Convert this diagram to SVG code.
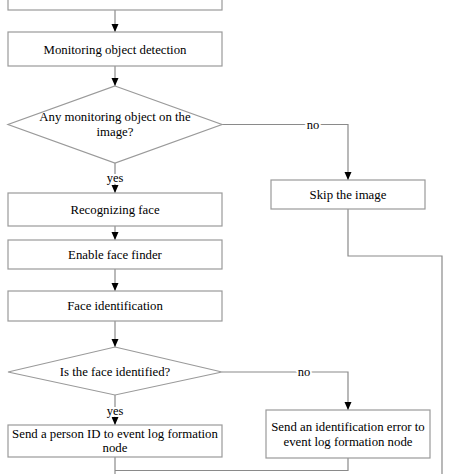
<svg xmlns="http://www.w3.org/2000/svg" width="474" height="474" viewBox="0 0 474 474">
<defs>
<marker id="arr" viewBox="0 0 8 8" refX="8" refY="4" markerWidth="8" markerHeight="8" markerUnits="userSpaceOnUse" orient="auto">
<path d="M0,0.5 L8,4 L0,7.5 Z" fill="#000"/>
</marker>
<style>
.box{fill:#fff;stroke:#9a9a9a;stroke-width:1.2}
.t{font-family:"Liberation Serif","Times New Roman",serif;font-size:12.8px;fill:#000;text-anchor:middle}
.lbl{font-family:"Liberation Serif","Times New Roman",serif;font-size:12.5px;fill:#000;text-anchor:middle;stroke:#fff;stroke-width:4;paint-order:stroke}
.c{fill:none;stroke:#8a8a8a;stroke-width:1.2}
</style>
</defs>
<rect width="474" height="474" fill="#fff"/>
<g id="connectors">
<path class="c" d="M115,10 V32" marker-end="url(#arr)"/>
<path class="c" d="M115,66 V86" marker-end="url(#arr)"/>
<path class="c" d="M115,163 V193" marker-end="url(#arr)"/>
<path class="c" d="M222,124.5 H348 V180" marker-end="url(#arr)"/>
<path class="c" d="M115,226 V240" marker-end="url(#arr)"/>
<path class="c" d="M115,269 V291" marker-end="url(#arr)"/>
<path class="c" d="M115,321 V347" marker-end="url(#arr)"/>
<path class="c" d="M115,395 V425" marker-end="url(#arr)"/>
<path class="c" d="M222,372 H348 V410" marker-end="url(#arr)"/>
<path class="c" d="M348,209 V256 H442 V474"/>
<path class="c" d="M115,457 V474"/>
<path class="c" d="M115,470.5 H348 V458"/>
<text class="lbl" x="115" y="182">yes</text>
<text class="lbl" x="313" y="128.5">no</text>
<text class="lbl" x="115" y="415">yes</text>
<text class="lbl" x="304" y="376">no</text>
</g>
<g id="n0"><rect class="box" x="8" y="-20" width="214" height="30"/></g>
<g id="n1"><rect class="box" x="8" y="32" width="214" height="34"/><text class="t" x="115" y="53.5">Monitoring object detection</text></g>
<g id="n2"><polygon class="box" points="115,86 222,124.5 115,163 8,124.5"/><text class="t" x="115" y="121">Any monitoring object on the</text><text class="t" x="115" y="136">image?</text></g>
<g id="n3"><rect class="box" x="271" y="180" width="154" height="29"/><text class="t" x="348" y="199">Skip the image</text></g>
<g id="n4"><rect class="box" x="8" y="193" width="214" height="33"/><text class="t" x="115" y="213.5">Recognizing face</text></g>
<g id="n5"><rect class="box" x="8" y="240" width="214" height="29"/><text class="t" x="115" y="258.5">Enable face finder</text></g>
<g id="n6"><rect class="box" x="8" y="291" width="214" height="30"/><text class="t" x="115" y="310">Face identification</text></g>
<g id="n7"><polygon class="box" points="115,347 222,372 115,395 8,372"/><text class="t" x="115" y="376">Is the face identified?</text></g>
<g id="n8"><rect class="box" x="8" y="425" width="214" height="32"/><text class="t" x="115" y="437.5">Send a person ID to event log formation</text><text class="t" x="115" y="452">node</text></g>
<g id="n9"><rect class="box" x="266" y="410" width="164" height="48"/><text class="t" x="348" y="431">Send an identification error to</text><text class="t" x="348" y="446">event log formation node</text></g>
</svg>
